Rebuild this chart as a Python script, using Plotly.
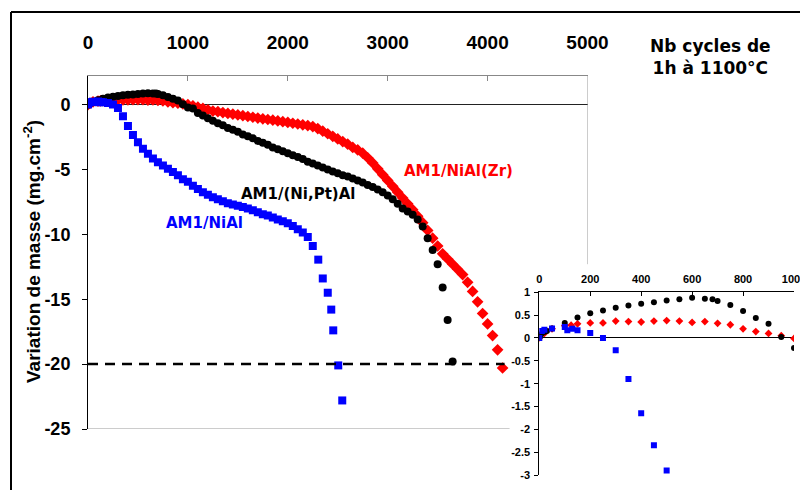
import plotly.graph_objects as go

# Mass change (mg/cm2) versus number of 1 h cycles at 1100 °C
nial_cycles = [0, 10, 20, 50, 100, 110, 130, 150, 200, 250, 300, 350, 400, 450, 500,
               550, 600, 650, 700, 750, 800, 850, 900, 950, 1000, 1050, 1100, 1150, 1200,
               1250, 1300, 1350, 1400, 1450, 1500, 1550, 1600, 1650, 1700, 1750, 1800,
               1850, 1900, 1950, 2000, 2050, 2100, 2150, 2200, 2250, 2305, 2350, 2400,
               2435, 2455, 2505, 2545]
nial_mass = [0.0, 0.15, 0.18, 0.21, 0.24, 0.17, 0.2, 0.17, 0.11, 0.0, -0.27, -0.9, -1.65,
             -2.35, -2.9, -3.4, -3.8, -4.15, -4.45, -4.7, -4.95, -5.2, -5.45, -5.75, -5.95,
             -6.25, -6.5, -6.75, -6.95, -7.15, -7.3, -7.45, -7.6, -7.7, -7.8, -7.9, -8.0,
             -8.15, -8.3, -8.45, -8.55, -8.7, -8.85, -9.0, -9.15, -9.35, -9.6, -9.85, -10.2,
             -10.9, -11.95, -13.4, -14.5, -15.8, -17.4, -20.1, -22.8]

nipt_cycles = [0, 5, 10, 20, 30, 50, 100, 150, 200, 250, 300, 350, 400, 450, 500, 550,
               600, 650, 680, 700, 750, 800, 850, 900, 950, 1000, 1050, 1100, 1150, 1200,
               1250, 1300, 1350, 1400, 1450, 1500, 1550, 1600, 1650, 1700, 1750, 1800,
               1850, 1900, 1950, 2000, 2050, 2100, 2150, 2200, 2250, 2300, 2350, 2400,
               2450, 2500, 2550, 2600, 2650, 2700, 2750, 2800, 2850, 2900, 2950, 3000,
               3050, 3100, 3150, 3200, 3250, 3300, 3350, 3400, 3450, 3500, 3550, 3600, 3650]
nipt_mass = [0.0, 0.05, 0.1, 0.13, 0.15, 0.21, 0.33, 0.45, 0.54, 0.6, 0.66, 0.71, 0.75,
             0.78, 0.82, 0.85, 0.88, 0.86, 0.85, 0.81, 0.72, 0.59, 0.44, 0.31, 0.02, -0.22,
             -0.3, -0.65, -0.85, -1.05, -1.25, -1.45, -1.6, -1.8, -1.95, -2.1, -2.3, -2.45,
             -2.6, -2.8, -2.95, -3.1, -3.3, -3.45, -3.6, -3.75, -3.9, -4.05, -4.2, -4.4,
             -4.55, -4.7, -4.85, -5.0, -5.15, -5.3, -5.45, -5.55, -5.7, -5.85, -6.0, -6.2,
             -6.35, -6.55, -6.75, -7.0, -7.3, -7.65, -8.0, -8.25, -8.5, -8.85, -9.4, -10.3,
             -11.2, -12.3, -14.1, -16.6, -19.8]

zr_cycles = [0, 20, 50, 100, 125, 150, 200, 250, 300, 350, 400, 450, 500, 550, 600, 650,
             700, 750, 800, 850, 900, 950, 1000, 1050, 1100, 1150, 1200, 1250, 1300, 1350,
             1400, 1450, 1500, 1550, 1600, 1650, 1700, 1750, 1800, 1850, 1900, 1950, 2000,
             2050, 2100, 2150, 2200, 2250, 2300, 2350, 2400, 2450, 2500, 2550, 2600, 2650,
             2700, 2750, 2800, 2850, 2900, 2950, 3000, 3050, 3100, 3150, 3200, 3250, 3300,
             3350, 3400, 3450, 3500, 3550, 3600, 3650, 3700, 3750, 3800, 3850, 3900, 3950,
             4000, 4050, 4100, 4150]
zr_mass = [0.0, 0.1, 0.2, 0.27, 0.28, 0.31, 0.33, 0.33, 0.37, 0.36, 0.35, 0.37, 0.38, 0.37,
           0.34, 0.36, 0.32, 0.29, 0.2, 0.14, 0.1, 0.05, -0.01, -0.1, -0.2, -0.3, -0.4, -0.5,
           -0.55, -0.62, -0.68, -0.74, -0.8, -0.86, -0.92, -0.98, -1.04, -1.1, -1.15, -1.2,
           -1.26, -1.32, -1.38, -1.44, -1.5, -1.56, -1.62, -1.7, -1.85, -2.05, -2.25, -2.45,
           -2.65, -2.85, -3.05, -3.3, -3.5, -3.75, -4.1, -4.5, -4.95, -5.4, -5.85, -6.3,
           -6.75, -7.2, -7.65, -8.1, -8.6, -9.1, -9.7, -10.3, -10.9, -11.5, -11.9, -12.3,
           -12.7, -13.1, -13.7, -14.4, -15.2, -16.1, -16.9, -17.8, -18.9, -20.3]

main_xticks = [0, 1000, 2000, 3000, 4000, 5000]
main_yticks = [0, -5, -10, -15, -20, -25]
main_yticktext = ["0", "-5", "-10", "-15", "-20", "-25"]
inset_xticks = [0, 200, 400, 600, 800, 1000]
inset_yticks = [1, 0.5, 0, -0.5, -1, -1.5, -2, -2.5, -3]
inset_yticktext = ["1", "0.5", "0", "-0.5", "-1", "-1.5", "-2", "-2.5", "-3"]
failure_limit = -20

W, H = 800, 490
BLUE, BLACK, RED = "#0000ff", "#000000", "#ff0000"


def px(v):
    return v / W


def py(v):
    return 1 - v / H


fig = go.Figure()

series = [
    (zr_cycles, zr_mass, RED, "diamond", 9, 6),
    (nipt_cycles, nipt_mass, BLACK, "circle", 8, 6),
    (nial_cycles, nial_mass, BLUE, "square", 8, 6),
]
for xs, ys, col, sym, s_main, s_inset in series:
    fig.add_trace(go.Scatter(x=xs, y=ys, mode="markers", xaxis="x", yaxis="y",
                             marker=dict(color=col, symbol=sym, size=s_main, line_width=0),
                             showlegend=False, hoverinfo="skip"))
for xs, ys, col, sym, s_main, s_inset in series:
    fig.add_trace(go.Scatter(x=xs, y=ys, mode="markers", xaxis="x2", yaxis="y2",
                             marker=dict(color=col, symbol=sym, size=s_inset, line_width=0),
                             showlegend=False, hoverinfo="skip"))

tick_font = dict(family="Liberation Sans", size=19, color="black", weight="bold")
inset_font = dict(family="Liberation Sans", size=11, color="black", weight="bold")
label_font = "DejaVu Sans"

fig.update_layout(
    width=W, height=H,
    margin=dict(l=0, r=0, t=0, b=0, pad=0, autoexpand=False),
    paper_bgcolor="white", plot_bgcolor="white",
    xaxis=dict(domain=[px(88), px(587.5)], range=[0, 5000], side="top", automargin=False,
               tickvals=main_xticks, ticks="inside", ticklen=5, tickcolor="#888",
               showline=True, linecolor="#888", linewidth=1, showgrid=False,
               zeroline=False, tickfont=tick_font, ticklabelstandoff=18),
    yaxis=dict(domain=[py(429), py(76)], range=[-25, 2.2], tickvals=main_yticks,
               ticktext=main_yticktext, automargin=False,
               ticks="outside", ticklen=5, tickcolor="black", showline=True,
               linecolor="black", linewidth=1, showgrid=False, zeroline=True,
               zerolinecolor="#222", zerolinewidth=1, tickfont=dict(tick_font, size=18),
               ticklabelstandoff=8),
    xaxis2=dict(domain=[px(539.3), px(794)], range=[0, 1000], anchor="y2", side="top",
                automargin=False, ticklabeloverflow="allow",
                tickvals=inset_xticks, ticks="inside", ticklen=4, tickcolor="black",
                showline=True, linecolor="black", linewidth=1, showgrid=False,
                zeroline=False, tickfont=inset_font, ticklabelstandoff=4),
    yaxis2=dict(domain=[py(475), py(292.3)], range=[-3, 1], anchor="x2",
                automargin=False, ticklabeloverflow="allow",
                tickvals=inset_yticks, ticktext=inset_yticktext, ticks="outside",
                ticklen=4, tickcolor="black", showline=True, linecolor="black",
                linewidth=1, showgrid=False, zeroline=True, zerolinecolor="black",
                zerolinewidth=1, tickfont=inset_font, ticklabelstandoff=2),
)

# frame pieces of the main plot that stop short of the inset
fig.add_shape(type="line", xref="x", yref="y", x0=0, x1=4220, y0=-25, y1=-25,
              line=dict(color="#999", width=1))
fig.add_shape(type="line", xref="x", yref="y", x0=5000, x1=5000, y0=2.2, y1=-12.3,
              line=dict(color="#999", width=1))
# failure criterion
fig.add_shape(type="line", xref="x", yref="y", x0=0, x1=4170, y0=failure_limit,
              y1=failure_limit, line=dict(color="black", width=2.5, dash="10px,7px"))
# outer border
fig.add_shape(type="line", xref="paper", yref="paper", x0=px(11), x1=1, y0=py(12),
              y1=py(12), line=dict(color="black", width=2))
fig.add_shape(type="line", xref="paper", yref="paper", x0=px(11), x1=px(11), y0=py(12),
              y1=0, line=dict(color="black", width=2))

fig.add_annotation(xref="paper", yref="paper", x=px(32), y=py(252), textangle=-90,
                   xanchor="center", yanchor="middle",
                   text="Variation de masse (mg.cm<sup>-2</sup>)", showarrow=False,
                   font=dict(family="Liberation Sans", size=19, color="black", weight="bold"))
fig.add_annotation(xref="paper", yref="paper", x=px(710), y=py(57),
                   xanchor="center", yanchor="middle",
                   text="Nb cycles de<br>1h à 1100°C", showarrow=False, align="center",
                   font=dict(family=label_font, size=17, color="black", weight="bold"))

for text, x, y, col in [("AM1/NiAl", 1170, -9.1, BLUE),
                        ("AM1/(Ni,Pt)Al", 2107, -6.89, BLACK),
                        ("AM1/NiAl(Zr)", 3710, -5.1, RED)]:
    fig.add_annotation(xref="x", yref="y", x=x, y=y, text=text, showarrow=False,
                       font=dict(family=label_font, size=15, color=col, weight="bold"))

fig.write_html("out.html")
